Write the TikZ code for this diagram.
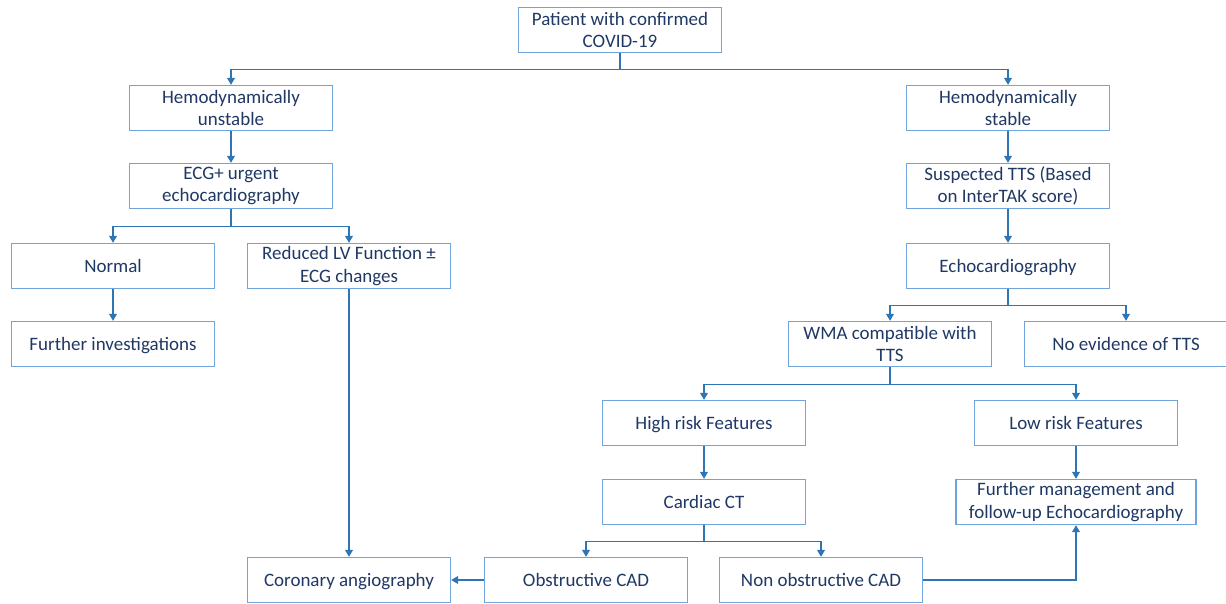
\documentclass[tikz,border=0pt]{standalone}
\usepackage{fontspec}
\setmainfont{Carlito}
\usetikzlibrary{arrows.meta}

\definecolor{boxline}{RGB}{111,165,218}
\definecolor{linkblue}{RGB}{46,117,182}
\definecolor{textblue}{RGB}{31,56,100}

\tikzset{
  box/.style={draw=boxline, line width=0.8pt, minimum width=4.06cm, minimum height=0.9cm,
    align=center, text=textblue, inner sep=1pt, font=\fontsize{10.8}{12.6}\selectfont},
  oneline/.style={text height=1.5ex, text depth=0pt},
  link/.style={draw=linkblue, line width=0.7pt},
  arr/.style={link, -{Triangle[length=4pt,width=4.5pt]}}
}

\begin{document}
\begin{tikzpicture}[x=0.02cm,y=-0.02cm]
    % Frame
    \clip (0,0) rectangle (1226,603);

    % Boxes
    \node[box] (patient) at (620,30) {Patient with confirmed\\COVID-19};
    \node[box] (hemu) at (231,108) {Hemodynamically\\unstable};
    \node[box] (hems) at (1008,108) {Hemodynamically\\stable};
    \node[box] (ecg) at (231,186) {ECG+ urgent\\echocardiography};
    \node[box] (tts) at (1008,186) {Suspected TTS (Based\\on InterTAK score)};
    \node[box,oneline] (normal) at (113,266) {Normal};
    \node[box] (reduced) at (349,266) {Reduced LV Function ±\\ECG changes};
    \node[box,oneline] (echo) at (1008,266) {Echocardiography};
    \node[box,oneline] (further) at (113,344) {Further investigations};
    \node[box] (wma) at (890,344) {WMA compatible with\\TTS};
    \node[box,oneline] (noev) at (1126,344) {No evidence of TTS};
    \node[box,oneline] (high) at (704,423) {High risk Features};
    \node[box,oneline] (low) at (1076,423) {Low risk Features};
    \node[box,oneline] (ct) at (704,502) {Cardiac CT};
    \node[box, minimum width=4.8cm] (mgmt) at (1076,502) {Further management and\\follow-up Echocardiography};
    \node[box,oneline] (coro) at (349,580) {Coronary angiography};
    \node[box,oneline] (obs) at (586,580) {Obstructive CAD};
    \node[box,oneline] (nonobs) at (821,580) {Non obstructive CAD};

    % Top split
    \draw[link] (patient.south) -- ++(0,16) coordinate (s1);
    \draw[arr] (s1) -| (hemu.north);
    \draw[arr] (s1) -| (hems.north);

    % Unstable branch
    \draw[arr] (hemu) -- (ecg);
    \draw[link] (ecg.south) -- ++(0,17) coordinate (s2);
    \draw[arr] (s2) -| (normal.north);
    \draw[arr] (s2) -| (reduced.north);
    \draw[arr] (normal) -- (further);
    \draw[arr] (reduced.south) -- (coro.north);

    % Stable branch
    \draw[arr] (hems) -- (tts);
    \draw[arr] (tts) -- (echo);
    \draw[link] (echo.south) -- ++(0,16) coordinate (s3);
    \draw[arr] (s3) -| (wma.north);
    \draw[arr] (s3) -| (noev.north);
    \draw[link] (wma.south) -- ++(0,17) coordinate (s4);
    \draw[arr] (s4) -| (high.north);
    \draw[arr] (s4) -| (low.north);
    \draw[arr] (high) -- (ct);
    \draw[arr] (low) -- (mgmt);
    \draw[link] (ct.south) -- ++(0,16) coordinate (s5);
    \draw[arr] (s5) -| (obs.north);
    \draw[arr] (s5) -| (nonobs.north);

    % CAD outcomes
    \draw[arr] (obs.west) -- (coro.east);
    \draw[arr] (nonobs.east) -| (mgmt.south);
\end{tikzpicture}
\end{document}
